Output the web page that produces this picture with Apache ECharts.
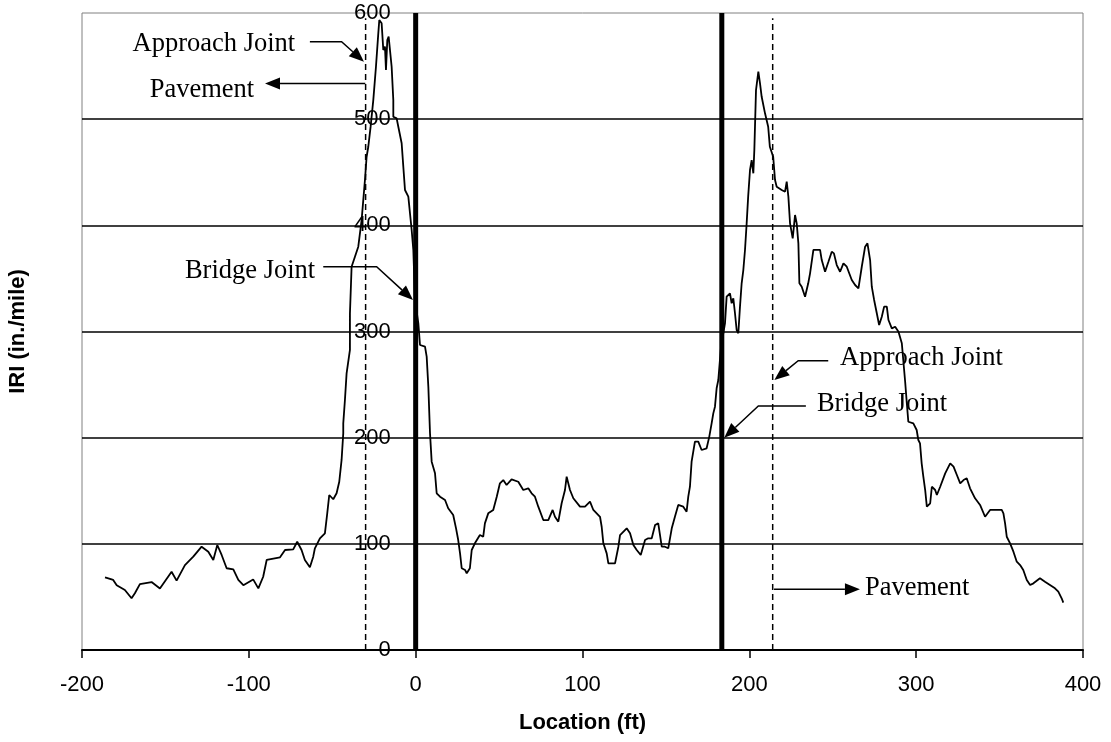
<!DOCTYPE html>
<html>
<head>
<meta charset="utf-8">
<script src="https://cdn.jsdelivr.net/npm/echarts@6/dist/echarts.min.js"></script>
<style>
html,body{margin:0;padding:0;background:#fff;}
#chart{width:1111px;height:742px;}
</style>
</head>
<body>
<div id="chart"></div>
<script>
// ---- data ----
const locationFt = [
-186.2,-181.3,-179.2,-174.3,-170.3,-168.3,-165.3,-158.3,-153.3,-146.3,-143.3,-138.3,-133.3,-128.3,-124.3,-121.3,-118.9,-116.3,-113.3,-109.3,
-106.3,-103.3,-97.4,-94.3,-91.4,-89.3,-81.3,-78.3,-73.4,-71,-68.4,-66.4,-63.4,-61.4,-60.4,-57.4,-54.4,-53,-51.8,-49.4,
-47.4,-45.8,-44.4,-43.4,-43.4,-42.4,-41.4,-39.4,-39.4,-38.4,-36.4,-34.4,-32.4,-31.4,-30.4,-29.4,-28.4,-27,-25.4,-23.8,
-22.4,-21.8,-20.4,-19.4,-18.4,-17.8,-17,-16.2,-14.4,-13.4,-13.4,-11.4,-10.4,-8.4,-7.4,-6.4,-4.4,-3,-2.4,-1.4,
-0.4,1.6,2.6,5.6,6.6,7.6,8.6,9.6,11.6,12.6,14.6,17.6,19.5,22.5,24.2,25.5,26.6,27.6,29.6,30.6,
32.5,33.6,35.5,38.5,40.5,41.5,43.5,46.5,48.6,50.5,52.5,54.5,57.5,61.5,64.5,67.5,69.5,71.5,73.5,76.5,
79.5,82.1,83.5,85.5,87.5,89.5,90.5,92.5,94.5,98.5,101.5,104.5,106.5,110.5,111.5,112.5,114.5,115.5,119.5,121.5,
122.5,126.5,128.5,130.5,132.5,134.9,137.5,139.4,141.5,143.5,145.4,147.5,149.4,151.4,153.5,155.4,157.4,160.4,162.4,163.4,
164.4,165.4,167.4,169.4,171.4,174.4,176,177.4,178.4,179.4,180.4,181.4,183,185.4,186.4,188.4,189.4,190.4,191.4,192.4,
193.4,194.4,195.4,196.4,197.4,198.4,199.3,200.4,201.4,202.4,203,204,205.4,206.4,207.4,209.4,211.3,212.3,214.3,215.4,
216.4,219.4,221.4,222.4,223.4,224.4,226,227.4,228.4,229.4,230,231.4,233.4,235.3,236.4,238.4,239.4,242.4,243.4,245.4,
247.4,249.4,250.7,252.4,254.4,256.4,258.4,261.4,263.4,265.4,267.4,269.4,270.8,272.4,273.4,274.8,276.4,277.8,279.4,280.8,
282.4,283.4,285.4,287.4,289.4,291.4,293.4,294.4,295.3,298.3,300.3,301.3,302.3,303.3,304.3,305.4,306.4,308.4,309.4,311.4,
312.4,314.4,317.4,320.4,322.4,324.4,326.4,328.4,330.3,332.3,335.3,338.3,341.3,344.3,348.4,351.3,352.3,353.3,354.3,356.3,
358.3,360.3,362.3,364.2,366.3,368.3,370.3,374.2,377.2,380.2,383.2,385.2,387.2,388.2
];
const iriInPerMile = [
68.5,66,61,56.5,48.7,53.4,62,64,58,73.7,65.3,80,87.9,97.3,92.6,84.8,98.9,89.5,77,76,
66,61,66.5,58,69,84.8,87.3,94.2,94.8,102,94.2,84.8,77.9,87.9,95.8,105.2,109.9,128.7,146,142,
147.6,158.5,179,204,213.5,235.5,260.6,282.6,317,361,370.4,379.9,405,423.8,442.7,464.6,474,492.9,518,549.4,
580.8,593.4,590.3,565.1,568.3,546.3,574.6,577.7,549.4,518,502.3,500.8,492.9,477.3,455.2,433.3,427,405,395.6,376.8,
329.7,307.7,287.3,285.7,276.3,248,204.1,177.4,166.4,147.6,144.4,141.3,133.5,127.2,114.6,103.6,91,77,75.4,72.2,
77,94.2,100.5,108.3,106.7,119.3,128.7,131.9,144.4,157,160.1,155.4,160.8,158.5,150.7,152.3,147.6,144.4,135,122.4,
122.4,131.9,125.5,120.9,138.2,150.7,163.2,150.7,142.9,135,135,139.7,131.9,125.5,116.1,100.5,91,81.6,81.6,97.3,
108.3,114.6,109.9,98.9,94.2,89.5,103.6,105.2,105.2,117.7,119.3,97.3,97.3,95.8,114.6,125.5,136.6,135,130.3,144.4,
153.8,177.4,196.2,196.2,188.4,190,201,213.5,222.9,229.2,246.5,254.3,285,307.7,332.8,336,326.6,331.3,317.2,301.4,
298.3,323.4,345.4,357.9,376.8,401.9,427,452.1,461.5,449,470.9,527.4,544.7,533.7,521.1,505.5,492.9,474,464.6,442.7,
436.4,433.3,431.7,441.1,427,401.9,387.8,409.7,401.9,383,345.4,342.2,332.8,345.4,354.8,376.8,378.3,376.8,367.3,356.3,
365.7,375.2,373.6,362.6,356.3,364.2,361,348.5,343.8,340.7,361,379.9,383,367.3,342.2,329.7,317.2,306.1,313.9,323.4,
323.4,310.8,303,304.5,299.8,288.9,252.7,232.4,215,213.5,207.2,197.8,194.7,175.8,163.2,150.7,135,138.2,153.8,150.7,
146,153.8,166.4,175.8,172.7,164.8,157,160.1,161.7,152.3,142.9,136.6,125.5,131.9,131.9,131.9,128.7,119.3,106.7,100.5,
92.6,83.2,80,75.4,66,61.2,62.8,67.5,64.3,61.2,58.1,54.9,48.7,44.6
];
const xTickValues = [-200, -100, 0, 100, 200, 300, 400];
const yTickValues = [0, 100, 200, 300, 400, 500, 600];
const bridgeJointFt = [0, 183.5];
const approachJointFt = [-30, 214];

// callouts (data coordinates)
const calloutText = ['Approach Joint', 'Pavement', 'Bridge Joint', 'Approach Joint', 'Bridge Joint', 'Pavement'];
const calloutAnchorFt = [-72.2, -96.8, -60.2, 254.4, 240.5, 269.3];
const calloutAnchorIri = [571, 527.6, 357, 275.2, 231.3, 58.1];
const calloutSide = ['right', 'right', 'right', 'left', 'left', 'left'];
const calloutPathFt = [[-63.4, -44.4, -31], [-30.2, -90.3], [-55.4, -23.4, -1.6], [247.3, 229.3, 215], [233.9, 205.4, 185], [214.8, 266.3]];
const calloutPathIri = [[573, 573, 554], [533.7, 533.7], [361, 361, 329.7], [272.5, 272.5, 254.3], [229.8, 229.8, 200], [57.2, 57.2]];

// ---- chart ----
const chart = echarts.init(document.getElementById('chart'), null, {renderer: 'canvas'});
const sans = "'Liberation Sans', Arial, sans-serif";
const serif = "'Liberation Serif', 'Times New Roman', serif";

const GRID_LEFT = 82;
const series = [];
series.push({
  type: 'line',
  data: locationFt.map((x, i) => [x, iriInPerMile[i]]),
  showSymbol: false,
  symbol: 'none',
  lineStyle: {color: '#000', width: 1.8},
  z: 3
});
bridgeJointFt.forEach(x => series.push({
  type: 'line', data: [[x, yTickValues[0]], [x, yTickValues[yTickValues.length - 1]]],
  symbol: 'none', lineStyle: {color: '#000', width: 5}, z: 4
}));
approachJointFt.forEach(x => series.push({
  type: 'line', data: [[x, yTickValues[0]], [x, yTickValues[yTickValues.length - 1] - 5]],
  symbol: 'none', lineStyle: {color: '#000', width: 1.5, type: [6, 4]}, z: 4
}));
series.push({
  type: 'custom',
  clip: false,
  z: 5,
  data: calloutText.map((t, i) => [calloutAnchorFt[i], calloutAnchorIri[i]]),
  renderItem: function (params, api) {
    const i = params.dataIndex;
    const pts = calloutPathFt[i].map((x, k) => api.coord([x, calloutPathIri[i][k]]));
    const tip = pts[pts.length - 1];
    const prev = pts[pts.length - 2];
    const dx = tip[0] - prev[0], dy = tip[1] - prev[1];
    const len = Math.sqrt(dx * dx + dy * dy);
    const ux = dx / len, uy = dy / len;
    const L = 15, W = 6;
    const base = [tip[0] - ux * L, tip[1] - uy * L];
    const linePts = pts.slice(0, -1).concat([base]);
    const anchor = api.coord([calloutAnchorFt[i], calloutAnchorIri[i]]);
    return {
      type: 'group',
      children: [
        {type: 'polyline', shape: {points: linePts}, style: {stroke: '#000', lineWidth: 1.5, fill: null}},
        {type: 'polygon', shape: {points: [tip, [base[0] - uy * W, base[1] + ux * W], [base[0] + uy * W, base[1] - ux * W]]}, style: {fill: '#000'}},
        {type: 'text', x: anchor[0], y: anchor[1], style: {text: calloutText[i], font: '26.5px ' + serif, fill: '#000', align: calloutSide[i], verticalAlign: 'middle'}}
      ]
    };
  }
});

chart.setOption({
  animation: false,
  backgroundColor: '#fff',
  grid: {left: GRID_LEFT, right: 28, top: 13, bottom: 92, show: true, borderColor: '#808080', borderWidth: 1,
         containLabel: false, outerBoundsMode: 'none'},
  xAxis: {
    type: 'value',
    min: xTickValues[0], max: xTickValues[xTickValues.length - 1], interval: 100,
    name: 'Location (ft)', nameLocation: 'middle', nameGap: 62,
    nameTextStyle: {fontFamily: sans, fontSize: 22, fontWeight: 'bold', color: '#000'},
    axisLine: {onZero: false, lineStyle: {color: '#000', width: 2}},
    axisTick: {show: true, inside: false, length: 8, lineStyle: {color: '#000', width: 1.5}},
    axisLabel: {fontFamily: sans, fontSize: 22, color: '#000', margin: 24},
    splitLine: {show: false}
  },
  yAxis: {
    type: 'value',
    position: 'left',
    min: yTickValues[0], max: yTickValues[yTickValues.length - 1], interval: 100,
    name: 'IRI (in./mile)', nameLocation: 'middle', nameGap: 53, nameRotate: 90,
    nameTextStyle: {fontFamily: sans, fontSize: 22, fontWeight: 'bold', color: '#000'},
    axisLine: {show: false, onZero: false},
    axisTick: {show: false},
    // labels sit beside the x = 0 line, as in the reference
    axisLabel: {fontFamily: sans, fontSize: 22, color: '#000', margin: -(415.7 - GRID_LEFT - 25)},
    splitLine: {show: true, showMinLine: false, showMaxLine: false, lineStyle: {color: '#000', width: 1.5}}
  },
  series: series
});
</script>
</body>
</html>
